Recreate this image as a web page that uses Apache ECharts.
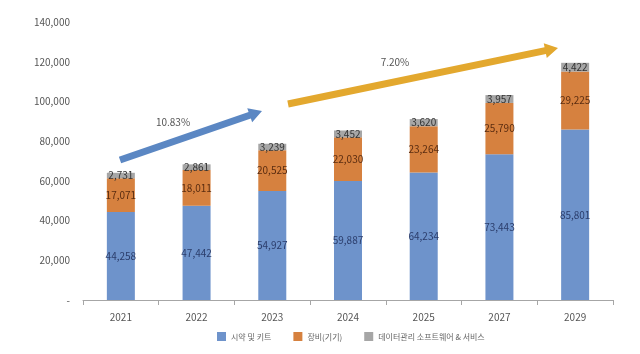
<!DOCTYPE html>
<html>
<head>
<meta charset="utf-8">
<script src="https://cdn.jsdelivr.net/npm/echarts@6/dist/echarts.min.js"></script>
<style>
  html, body { margin: 0; padding: 0; background: #fff; }
  #main { width: 640px; height: 354px; }
</style>
</head>
<body>
<div id="main"></div>
<script>
var years = ['2021', '2022', '2023', '2024', '2025', '2027', '2029'];
var reagents = [44258, 47442, 54927, 59887, 64234, 73443, 85801];
var equipment = [17071, 18011, 20525, 22030, 23264, 25790, 29225];
var software = [2731, 2861, 3239, 3452, 3620, 3957, 4422];
var seriesNames = ['시약 및 키트', '장비(기기)', '데이터관리 소프트웨어 & 서비스'];

var font = '"Liberation Sans Narrow", "Noto Sans CJK KR", sans-serif';

function fmt(v) {
    return v.toLocaleString('en-US');
}

// 굵은 화살표 (꼬리 -> 끝)
function arrow(x1, y1, x2, y2, w, headW, headL, color) {
    var dx = x2 - x1, dy = y2 - y1;
    var len = Math.sqrt(dx * dx + dy * dy);
    var ux = dx / len, uy = dy / len;
    var nx = -uy, ny = ux;
    var bx = x2 - ux * headL, by = y2 - uy * headL;
    return {
        type: 'polygon',
        shape: {
            points: [
                [x1 + nx * w / 2, y1 + ny * w / 2],
                [bx + nx * w / 2, by + ny * w / 2],
                [bx + nx * headW / 2, by + ny * headW / 2],
                [x2, y2],
                [bx - nx * headW / 2, by - ny * headW / 2],
                [bx - nx * w / 2, by - ny * w / 2],
                [x1 - nx * w / 2, y1 - ny * w / 2]
            ]
        },
        style: { fill: color },
        z: 100
    };
}

var myChart = echarts.init(document.getElementById('main'));

var labelBase = {
    show: true,
    fontSize: 10,
    fontFamily: font,
    formatter: function (p) { return fmt(p.value); }
};

var option = {
    animation: false,
    textStyle: { fontFamily: font },
    grid: { left: 83, right: 27, top: 22, bottom: 54 },
    legend: {
        left: 212,
        bottom: 8,
        itemWidth: 9,
        itemHeight: 9,
        itemGap: 22,
        icon: 'rect',
        textStyle: { fontSize: 8, color: '#666', fontFamily: font },
        data: seriesNames
    },
    xAxis: {
        type: 'category',
        data: years,
        axisLine: { lineStyle: { color: '#a6a6a6' } },
        axisTick: { show: true, length: 5, lineStyle: { color: '#a6a6a6' } },
        axisLabel: { color: '#555', fontSize: 10, margin: 12 }
    },
    yAxis: {
        type: 'value',
        min: 0,
        max: 140000,
        interval: 20000,
        axisLine: { show: false },
        axisTick: { show: false },
        splitLine: { show: false },
        axisLabel: {
            color: '#555',
            fontSize: 10,
            margin: 13,
            formatter: function (v) { return v === 0 ? '-' : fmt(v); }
        }
    },
    series: [
        {
            name: seriesNames[0],
            type: 'bar',
            stack: 'total',
            barWidth: 28,
            data: reagents,
            itemStyle: { color: '#6E93CB' },
            label: Object.assign({}, labelBase, { color: '#2B3D6B' })
        },
        {
            name: seriesNames[1],
            type: 'bar',
            stack: 'total',
            data: equipment,
            itemStyle: { color: '#D6813F' },
            label: Object.assign({}, labelBase, { color: '#5A2C10' })
        },
        {
            name: seriesNames[2],
            type: 'bar',
            stack: 'total',
            data: software,
            itemStyle: { color: '#A6A6A6' },
            label: Object.assign({}, labelBase, { color: '#333', position: 'inside' })
        }
    ],
    graphic: [
        arrow(120, 160, 262, 111, 7, 15, 13, '#5B87C3'),
        arrow(288, 104, 558, 48, 7, 15, 13, '#E3A82E'),
        {
            type: 'text', x: 173, y: 122,
            style: { text: '10.83%', fill: '#555', fontSize: 10, fontFamily: font, textAlign: 'center', textVerticalAlign: 'middle' }
        },
        {
            type: 'text', x: 395, y: 62,
            style: { text: '7.20%', fill: '#555', fontSize: 10, fontFamily: font, textAlign: 'center', textVerticalAlign: 'middle' }
        }
    ]
};

myChart.setOption(option);
</script>
</body>
</html>
